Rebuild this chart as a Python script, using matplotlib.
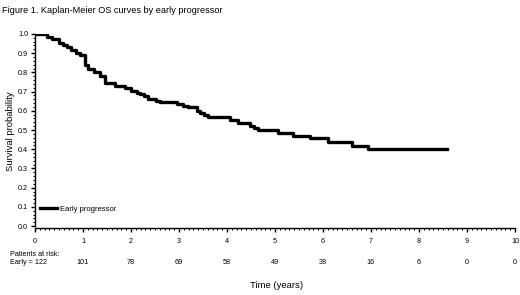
import numpy as np
import matplotlib
matplotlib.use('Agg')
import matplotlib.pyplot as plt
from matplotlib.ticker import MultipleLocator

plt.rcParams['font.family'] = ['Liberation Sans', 'DejaVu Sans']

# Kaplan-Meier step data
times = [0, 0.24, 0.35, 0.49, 0.58, 0.66, 0.76, 0.85, 0.94, 1.04, 1.11, 1.22,
         1.35, 1.46, 1.67, 1.88, 2.01, 2.12, 2.19, 2.28, 2.36, 2.53, 2.6, 2.95,
         3.09, 3.19, 3.37, 3.44, 3.52, 3.61, 4.06, 4.24, 4.48, 4.57, 4.65, 5.06,
         5.38, 5.73, 6.1, 6.6, 6.94, 8.58]
surv = [1.0, 0.985, 0.974, 0.955, 0.94, 0.93, 0.917, 0.9, 0.89, 0.84, 0.82, 0.80,
        0.78, 0.745, 0.73, 0.72, 0.705, 0.695, 0.685, 0.675, 0.66, 0.652, 0.647, 0.637,
        0.627, 0.618, 0.60, 0.59, 0.578, 0.566, 0.55, 0.535, 0.52, 0.508, 0.5, 0.483,
        0.47, 0.46, 0.436, 0.418, 0.40, 0.40]

# patients at risk
risk_years = [1, 2, 3, 4, 5, 6, 7, 8, 9, 10]
risk_counts = [101, 78, 69, 58, 49, 38, 16, 6, 0, 0]

fig = plt.figure(figsize=(5.2, 2.95), dpi=100)
ax = fig.add_axes([0.0673, 0.227, 0.923, 0.658])

ax.step(times, surv, where='post', color='black', lw=2.4, label='Early progressor')

ax.set_xlim(0, 10)
ax.set_ylim(-0.01, 1.0)
ax.set_xticks(range(0, 11))
ax.set_yticks(np.arange(0, 1.01, 0.1))
ax.set_yticklabels(['%.1f' % v for v in np.arange(0, 1.01, 0.1)])
ax.xaxis.set_minor_locator(MultipleLocator(0.1))
ax.yaxis.set_minor_locator(MultipleLocator(0.02))
for s in ['top', 'right']:
    ax.spines[s].set_visible(False)
for s in ['left', 'bottom']:
    ax.spines[s].set_linewidth(1.0)
ax.spines['left'].set_bounds(0, 1.0)
ax.tick_params(which='major', direction='out', length=3, width=1, labelsize=5.2, pad=2)
ax.tick_params(axis='x', which='major', pad=4)
ax.tick_params(which='minor', direction='out', length=1.5, width=0.8)

ax.set_ylabel('Survival probability', fontsize=6.8, labelpad=2)

leg = ax.legend(loc='center left', bbox_to_anchor=(0.01, 0.098), frameon=False,
                fontsize=5.5, handlelength=2.2, handletextpad=0.5,
                borderpad=0, borderaxespad=0)

# title and at-risk table
fig.text(0.004, 0.965, 'Figure 1. Kaplan-Meier OS curves by early progressor',
         fontsize=6.6, va='center', ha='left')
fig.text(0.019, 1 - 254 / 295, 'Patients at risk:', fontsize=5.2, va='center', ha='left')
fig.text(0.019, 1 - 263 / 295, 'Early = 122', fontsize=5.2, va='center', ha='left')
for yr, n in zip(risk_years, risk_counts):
    xf = ax.transData.transform((yr, 0))[0] / fig.bbox.width
    fig.text(xf, 1 - 263 / 295, str(n), fontsize=5.2, va='center', ha='center')
fig.text(0.532, 1 - 286 / 295, 'Time (years)', fontsize=6.8, va='center', ha='center')

fig.savefig('out.png', dpi=100)
